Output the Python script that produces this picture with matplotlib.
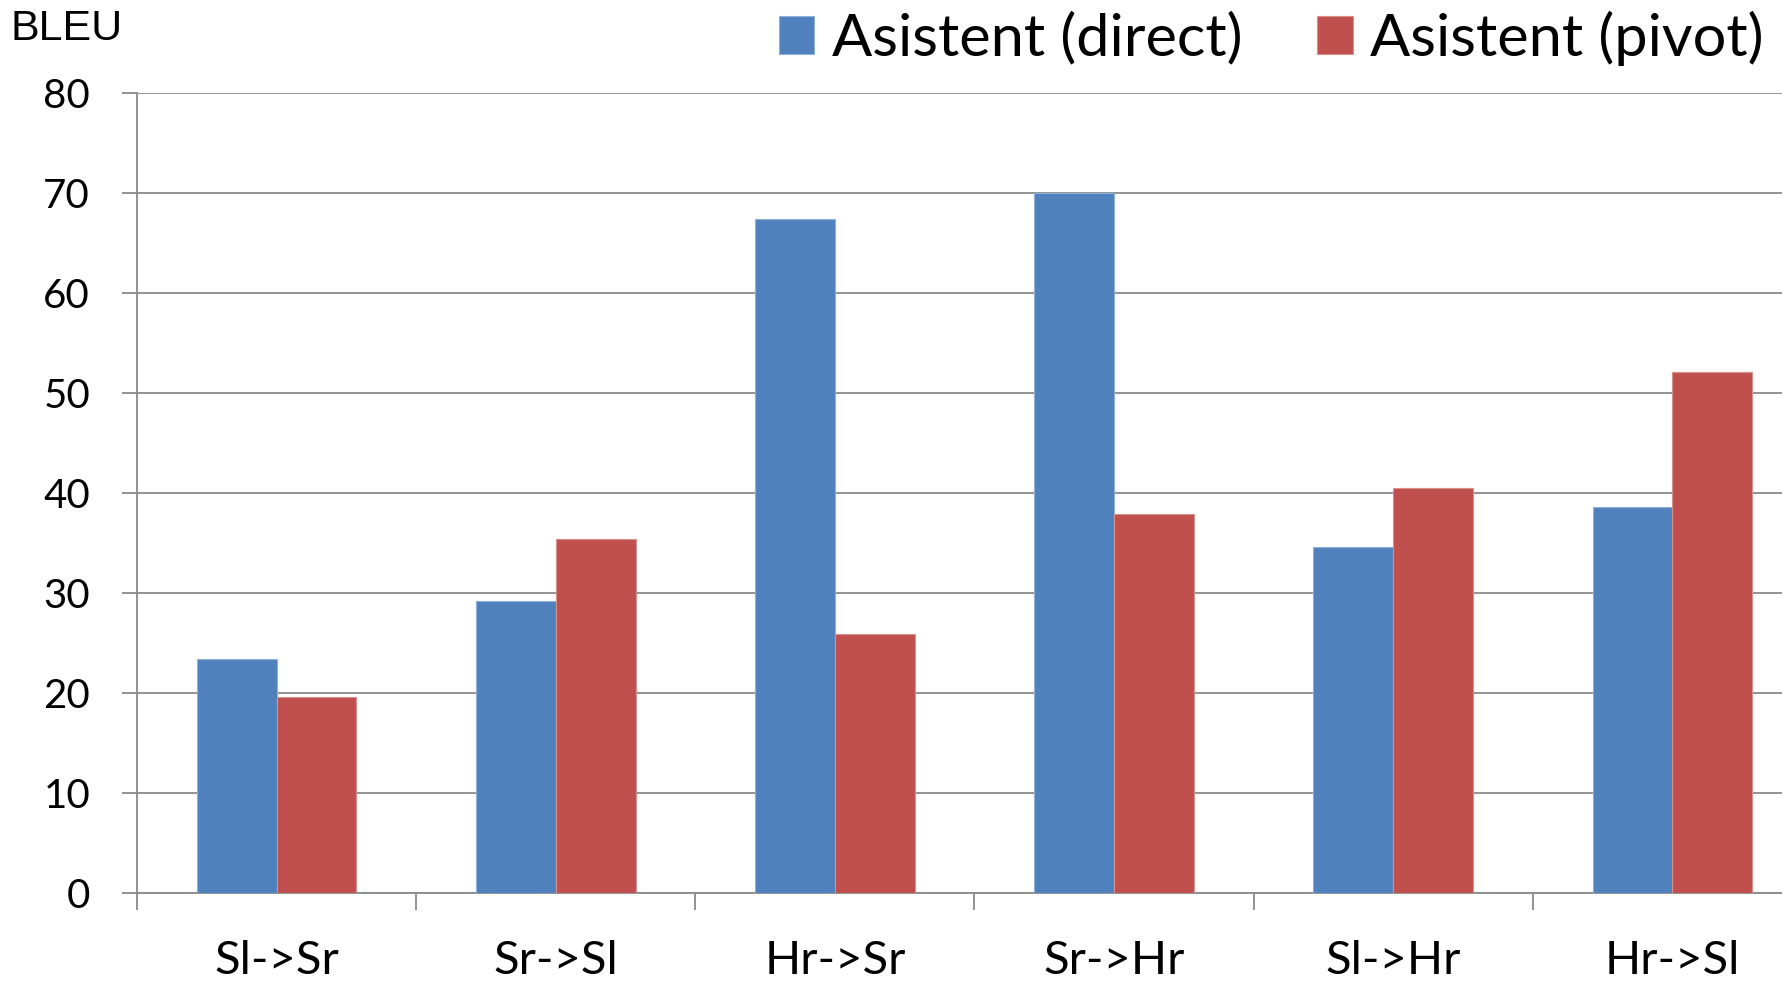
import matplotlib
matplotlib.use("Agg")
import matplotlib.pyplot as plt
import numpy as np

categories = ["Sl->Sr", "Sr->Sl", "Hr->Sr", "Sr->Hr", "Sl->Hr", "Hr->Sl"]
direct = [23.4, 29.2, 67.4, 70.0, 34.6, 38.6]
pivot = [19.6, 35.4, 25.9, 37.9, 40.5, 52.1]
series_names = ["Asistent (direct)", "Asistent (pivot)"]
yticks = [0, 10, 20, 30, 40, 50, 60, 70, 80]

W, H = 1783, 984
DPI = 100
fig = plt.figure(figsize=(W / DPI, H / DPI), dpi=DPI)
fig.patch.set_facecolor("white")

ax_left, ax_right = 137, 1812
ax_top, ax_bottom = 93, 893
ax = fig.add_axes([ax_left / W, 1 - ax_bottom / H, (ax_right - ax_left) / W, (ax_bottom - ax_top) / H])
ax.set_facecolor("none")

x = np.arange(len(categories))
w = 1 / 3.5
blue = "#4F81BD"
red = "#C0504D"
b1 = ax.bar(x - w / 2, direct, width=w, color=blue, edgecolor="#8FB0D9", linewidth=0.8, label=series_names[0], zorder=3)
b2 = ax.bar(x + w / 2, pivot, width=w, color=red, edgecolor="#D98F8D", linewidth=0.8, label=series_names[1], zorder=3)

ax.set_xlim(-0.5, len(categories) - 0.5)
ax.set_ylim(0, 80)
gray = "#8A8A8A"
ax.set_yticks(yticks)
ax.yaxis.grid(True, color=gray, linewidth=1.3)
ax.set_axisbelow(True)
for s in ["top", "right"]:
    ax.spines[s].set_visible(False)
for s in ["left", "bottom"]:
    ax.spines[s].set_color(gray)
    ax.spines[s].set_linewidth(1.3)

ax.tick_params(axis="y", length=10.8, width=1.3, color=gray, pad=23,
               labelsize=29, labelcolor="black")
for lab in ax.get_yticklabels():
    lab.set_fontfamily("Lato")

ax.set_xticks(x)
ax.set_xticklabels(categories, fontfamily="Lato", fontsize=34)
ax.set_xticks(np.arange(len(categories) + 1) - 0.5, minor=True)
ax.tick_params(axis="x", which="major", length=0, pad=34)
ax.tick_params(axis="x", which="minor", length=12.2, width=1.3, color=gray)

fig.text(11 / W, 1 - 40 / H, "BLEU", fontfamily="Liberation Sans", fontsize=31,
         va="baseline", ha="left")

fs = 42.8
leg = fig.legend(handles=[b1, b2], labels=series_names, ncol=2, frameon=False,
                 loc="center right", bbox_to_anchor=(1764 / W, 1 - 38 / H),
                 prop={"family": "Lato", "size": fs}, handlelength=0.6,
                 handleheight=0.6, handletextpad=0.3, columnspacing=1.25,
                 borderpad=0, borderaxespad=0)

fig.savefig("out.png", dpi=DPI)
